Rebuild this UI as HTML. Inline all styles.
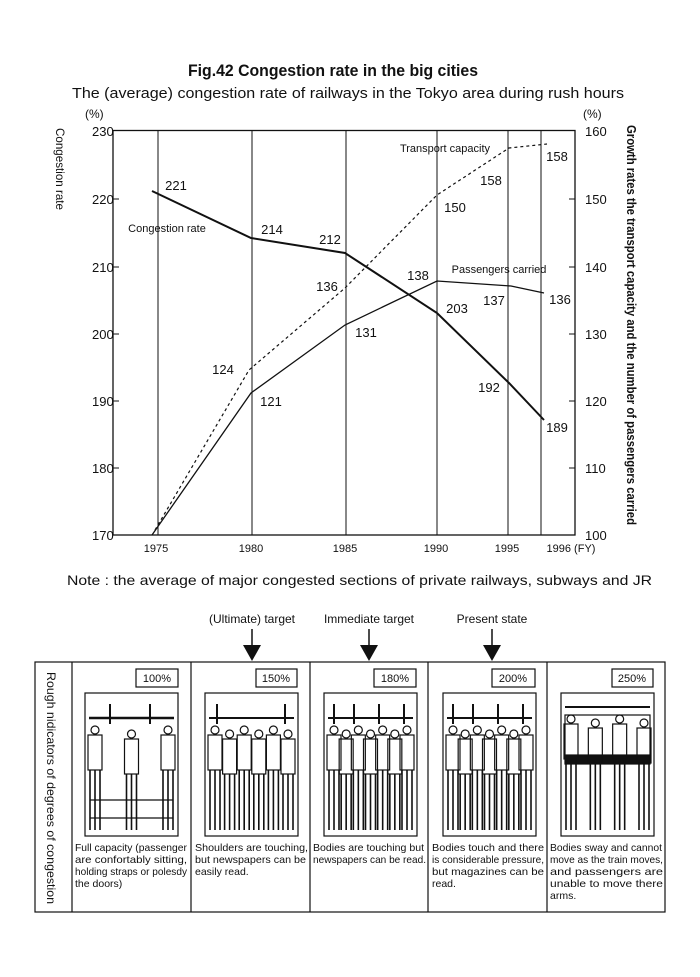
<!DOCTYPE html>
<html><head><meta charset="utf-8"><style>
html,body{margin:0;padding:0;background:#fff}
svg{display:block}
text{font-family:"Liberation Sans Narrow","Liberation Sans",sans-serif;fill:#111}
</style></head><body>
<svg id="s" width="700" height="977" viewBox="0 0 700 977" xmlns="http://www.w3.org/2000/svg">
<rect width="700" height="977" fill="#fff"/>
<text x="333" y="76" font-size="17" font-weight="bold" text-anchor="middle" textLength="290" lengthAdjust="spacingAndGlyphs">Fig.42  Congestion rate in the big cities</text>
<text x="72" y="98" font-size="15" textLength="552" lengthAdjust="spacingAndGlyphs">The (average) congestion rate of  railways in the Tokyo area during rush hours</text>
<text x="85" y="118" font-size="12">(%)</text>
<text x="583" y="118" font-size="12">(%)</text>
<text transform="translate(56,128) rotate(90)" font-size="12" textLength="82" lengthAdjust="spacingAndGlyphs">Congestion rate</text>
<text transform="translate(627,125) rotate(90)" font-size="13" font-weight="bold" textLength="400" lengthAdjust="spacingAndGlyphs">Growth rates the transport capacity and the number of passengers carried</text>
<g stroke="#111" fill="none">
<rect x="113" y="130.5" width="462" height="404.5" stroke-width="1.3"/>
<line x1="158" y1="130" x2="158" y2="535"/><line x1="252" y1="130" x2="252" y2="535"/>
<line x1="346" y1="130" x2="346" y2="535"/><line x1="437" y1="130" x2="437" y2="535"/>
<line x1="508" y1="130" x2="508" y2="535"/><line x1="541" y1="130" x2="541" y2="535"/>
<path d="M113 199h6M113 267h6M113 334h6M113 401h6M113 468h6M575 199h-6M575 267h-6M575 334h-6M575 401h-6M575 468h-6"/>
<polyline points="152,191 251,238 345,253 437,313 509,383 544,420" stroke-width="2"/>
<polyline points="152,535 251,393 345,325 437,281 511,286 544,293" stroke-width="1.3"/>
<polyline points="155,530 249,370 345,288 437,195 509,148 547,144" stroke-width="1.2" stroke-dasharray="3,3"/>
</g>
<g font-size="13">
<text x="92" y="136">230</text><text x="92" y="204">220</text><text x="92" y="272">210</text><text x="92" y="339">200</text><text x="92" y="406">190</text><text x="92" y="473">180</text><text x="92" y="540">170</text>
<text x="585" y="136">160</text><text x="585" y="204">150</text><text x="585" y="272">140</text><text x="585" y="339">130</text><text x="585" y="406">120</text><text x="585" y="473">110</text><text x="585" y="540">100</text>
</g>
<g font-size="13" text-anchor="middle">
<text x="176" y="190">221</text><text x="272" y="234">214</text><text x="330" y="244">212</text><text x="457" y="313">203</text><text x="489" y="392">192</text><text x="557" y="432">189</text>
<text x="557" y="161">158</text><text x="491" y="185">158</text><text x="455" y="212">150</text><text x="327" y="291">136</text><text x="223" y="374">124</text>
<text x="418" y="280">138</text><text x="494" y="305">137</text><text x="560" y="304">136</text><text x="366" y="337">131</text><text x="271" y="406">121</text>
</g>
<g font-size="11" text-anchor="middle">
<text x="167" y="232">Congestion rate</text>
<text x="445" y="152">Transport capacity</text>
<text x="499" y="273">Passengers carried</text>
<text x="156" y="552">1975</text><text x="251" y="552">1980</text><text x="345" y="552">1985</text><text x="436" y="552">1990</text><text x="507" y="552">1995</text><text x="571" y="552">1996 (FY)</text>
</g>
<text x="67" y="585" font-size="14" textLength="585" lengthAdjust="spacingAndGlyphs">Note : the average of major congested sections of private railways, subways and JR</text>
<g font-size="12">
<text x="252" y="623" text-anchor="middle">(Ultimate) target</text>
<text x="369" y="623" text-anchor="middle">Immediate target</text>
<text x="492" y="623" text-anchor="middle">Present state</text>
</g>
<g stroke="#111" stroke-width="1.5">
<line x1="252" y1="629" x2="252" y2="648"/><line x1="369" y1="629" x2="369" y2="648"/><line x1="492" y1="629" x2="492" y2="648"/>
</g>
<g fill="#111"><path d="M243 645h18l-9 16z"/><path d="M360 645h18l-9 16z"/><path d="M483 645h18l-9 16z"/></g>
<g stroke="#111" fill="none" stroke-width="1.2">
<rect x="35" y="662" width="630" height="250"/>
<line x1="72" y1="662" x2="72" y2="912"/><line x1="191" y1="662" x2="191" y2="912"/><line x1="310" y1="662" x2="310" y2="912"/><line x1="428" y1="662" x2="428" y2="912"/><line x1="547" y1="662" x2="547" y2="912"/>
<rect x="136" y="669" width="42" height="18"/><rect x="256" y="669" width="41" height="18"/><rect x="374" y="669" width="42" height="18"/><rect x="492" y="669" width="43" height="18"/><rect x="612" y="669" width="41" height="18"/>
</g>
<g font-size="11" text-anchor="middle">
<text x="157" y="682">100%</text><text x="276" y="682">150%</text><text x="395" y="682">180%</text><text x="513" y="682">200%</text><text x="632" y="682">250%</text>
</g>
<text transform="translate(47,672) rotate(90)" font-size="12" textLength="232" lengthAdjust="spacingAndGlyphs">Rough nidicators of degrees of congestion</text>
<g id="pics" stroke="#111" fill="none" stroke-width="1.2"></g>
<g font-size="10.5">
<text x="75" y="851" textLength="112" lengthAdjust="spacingAndGlyphs">Full capacity (passenger</text>
<text x="75" y="863" textLength="112" lengthAdjust="spacingAndGlyphs">are confortably sitting,</text>
<text x="75" y="875" textLength="112" lengthAdjust="spacingAndGlyphs">holding straps or polesdy</text>
<text x="75" y="887">the doors)</text>
<text x="195" y="851" textLength="113" lengthAdjust="spacingAndGlyphs">Shoulders are touching,</text>
<text x="195" y="863" textLength="111" lengthAdjust="spacingAndGlyphs">but newspapers can be</text>
<text x="195" y="875">easily read.</text>
<text x="313" y="851" textLength="111" lengthAdjust="spacingAndGlyphs">Bodies are touching but</text>
<text x="313" y="863" textLength="113" lengthAdjust="spacingAndGlyphs">newspapers can be read.</text>
<text x="432" y="851" textLength="112" lengthAdjust="spacingAndGlyphs">Bodies touch and there</text>
<text x="432" y="863" textLength="112" lengthAdjust="spacingAndGlyphs">is considerable pressure,</text>
<text x="432" y="875" textLength="112" lengthAdjust="spacingAndGlyphs">but magazines can be</text>
<text x="432" y="887">read.</text>
<text x="550" y="851" textLength="112" lengthAdjust="spacingAndGlyphs">Bodies sway and cannot</text>
<text x="550" y="863" textLength="113" lengthAdjust="spacingAndGlyphs">move as the train moves,</text>
<text x="550" y="875" textLength="113" lengthAdjust="spacingAndGlyphs">and passengers are</text>
<text x="550" y="887" textLength="113" lengthAdjust="spacingAndGlyphs">unable to move there</text>
<text x="550" y="899">arms.</text>
</g>
</svg>
<script>
(function(){
var g=document.getElementById('pics'),ns='http://www.w3.org/2000/svg';
function el(t,a){var e=document.createElementNS(ns,t);for(var k in a)e.setAttribute(k,a[k]);g.appendChild(e);return e;}
var frames=[85,205,324,443,561],n=[3,6,7,7,4];
frames.forEach(function(x,i){
 el('rect',{x:x,y:693,width:93,height:143});
 var ry=i==4?707:718;
 el('line',{x1:x+4,y1:ry,x2:x+89,y2:ry,'stroke-width':i==0?2.5:2});
 if(i<4){for(var s=0;s<(i==0?2:(i==1?2:4));s++){var sx=x+(i==0?[25,65][s]:(i==1?[12,80][s]:[10,30,55,80][s]));el('line',{x1:sx,y1:ry-14,x2:sx,y2:ry+6,'stroke-width':2});}}
 else{el('rect',{x:x+4,y:715,width:85,height:40});el('rect',{x:x+4,y:756,width:85,height:8,fill:'#111'});}
 var cnt=n[i];
 for(var p=0;p<cnt;p++){
  var px=x+10+p*(73/(cnt-1||1));
  var hy=ry+12+(p%2)*4;
  el('circle',{cx:px,cy:hy,r:4});
  el('rect',{x:px-7,y:hy+5,width:14,height:35});
  for(var l=0;l<3;l++)el('line',{x1:px-5+l*5,y1:hy+40,x2:px-5+l*5,y2:830,'stroke-width':1.6});
 }
 if(i==0){el('line',{x1:x+5,y1:800,x2:x+88,y2:800});el('line',{x1:x+5,y1:818,x2:x+88,y2:818});}
});
})();
</script>
</body></html>
